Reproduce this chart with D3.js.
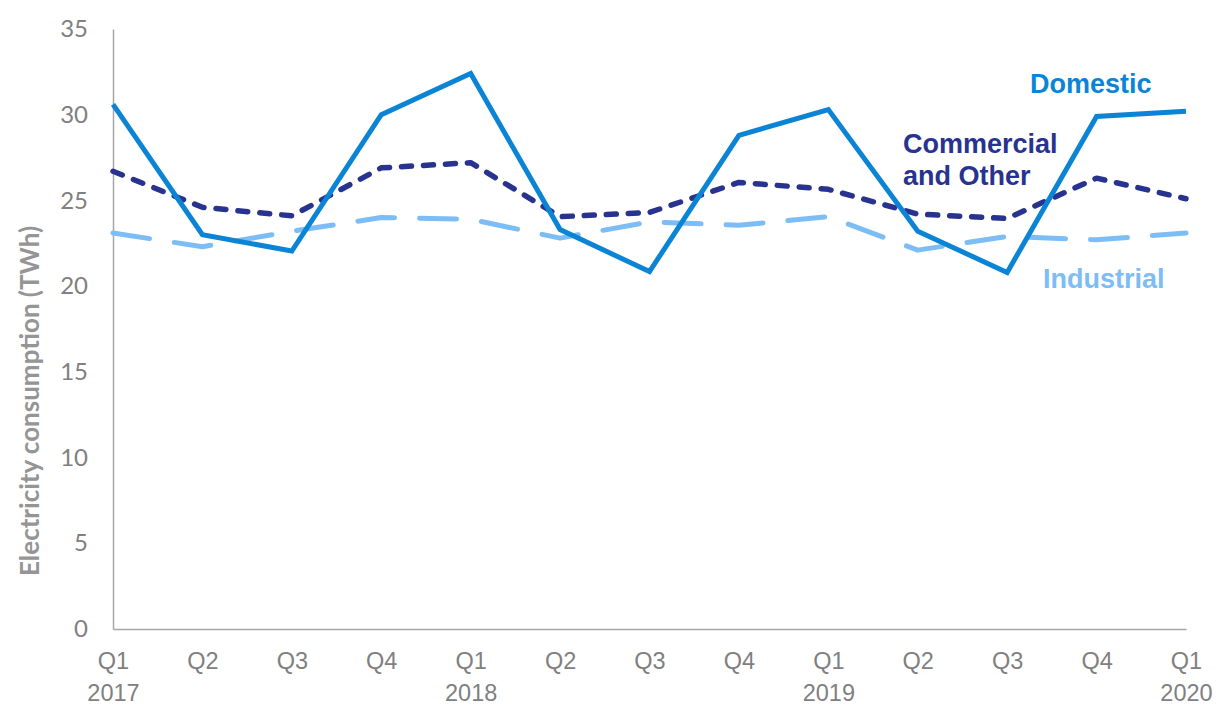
<!DOCTYPE html>
<html><head><meta charset="utf-8">
<script src="https://cdn.jsdelivr.net/npm/d3@7"></script>
<style>body{margin:0;background:#fff}svg{display:block}</style>
</head><body>
<svg id="c" width="1220" height="707"></svg>
<script>
const quarters = ["Q1","Q2","Q3","Q4","Q1","Q2","Q3","Q4","Q1","Q2","Q3","Q4","Q1"];
const years = ["2017","","","","2018","","","","2019","","","","2020"];
const domestic   = [30.6,23.0,22.05,30.0,32.4,23.3,20.85,28.8,30.3,23.2,20.8,29.9,30.2];
const commercial = [26.7,24.6,24.1,26.9,27.2,24.05,24.3,26.05,25.65,24.2,23.95,26.3,25.1];
const industrial = [23.1,22.3,23.2,24.0,23.9,22.8,23.75,23.55,24.05,22.1,22.9,22.7,23.1];
const yTicks = [0,5,10,15,20,25,30,35];

const svg = d3.select("#c");
const x = d3.scalePoint().domain(d3.range(quarters.length)).range([113,1186]);
const y = d3.scaleLinear().domain([0,35]).range([629,29]);

// axes
const gy = svg.append("g").attr("transform","translate(113,0)")
  .call(d3.axisLeft(y).tickValues(yTicks).tickSize(0).tickPadding(25));
gy.select(".domain").attr("stroke","#a6a6a6").attr("stroke-width",1.5);
gy.selectAll("text").attr("font-family","Lato, 'Open Sans', sans-serif").attr("font-size",24).attr("fill","#808080");

const gx = svg.append("g").attr("transform","translate(0,629)")
  .call(d3.axisBottom(x).tickSize(0).tickFormat(()=>""));
gx.select(".domain").attr("stroke","#a6a6a6").attr("stroke-width",1.5);
gx.selectAll(".tick text").remove();
const ticks = gx.selectAll(".tick");
ticks.append("text").attr("y",40).attr("text-anchor","middle")
  .attr("font-family","'Liberation Sans', Arial, sans-serif").attr("font-size",23.5).attr("fill","#808080")
  .text(d=>quarters[d]);
ticks.append("text").attr("y",72).attr("text-anchor","middle")
  .attr("font-family","'Liberation Sans', Arial, sans-serif").attr("font-size",23.5).attr("fill","#808080")
  .text(d=>years[d]);

// y title
svg.append("text").attr("transform","translate(39,401) rotate(-90)")
  .attr("text-anchor","middle").attr("font-family","Lato, 'Open Sans', sans-serif")
  .attr("font-weight","bold").attr("font-size",26).attr("fill","#959595")
  .text("Electricity consumption (TWh)");

// lines
const line = d3.line().x((d,i)=>x(i)).y(d=>y(d));

svg.append("path").datum(industrial).attr("d",line).attr("fill","none")
  .attr("stroke","#7dbdf5").attr("stroke-width",5).attr("stroke-linecap","round").attr("stroke-linejoin","round")
  .attr("stroke-dasharray","37,25");
svg.append("path").datum(commercial).attr("d",line).attr("fill","none")
  .attr("stroke","#28338f").attr("stroke-width",5.5).attr("stroke-linecap","round").attr("stroke-linejoin","round")
  .attr("stroke-dasharray","10,12");
svg.append("path").datum(domestic).attr("d",line).attr("fill","none")
  .attr("stroke","#0b84d6").attr("stroke-width",5).attr("stroke-linejoin","miter");

// labels
const lf = "'Liberation Sans', Arial, sans-serif";
svg.append("text").attr("x",1030).attr("y",93).attr("font-family",lf).attr("font-weight","bold")
  .attr("font-size",27).attr("fill","#0b84d6").text("Domestic");
const cl = svg.append("text").attr("x",903).attr("y",153).attr("font-family",lf).attr("font-weight","bold")
  .attr("font-size",27).attr("fill","#28338f");
cl.append("tspan").attr("x",903).text("Commercial");
cl.append("tspan").attr("x",903).attr("dy",32).text("and Other");
svg.append("text").attr("x",1043).attr("y",288).attr("font-family",lf).attr("font-weight","bold")
  .attr("font-size",27).attr("fill","#7dbdf5").text("Industrial");
</script>
</body></html>
